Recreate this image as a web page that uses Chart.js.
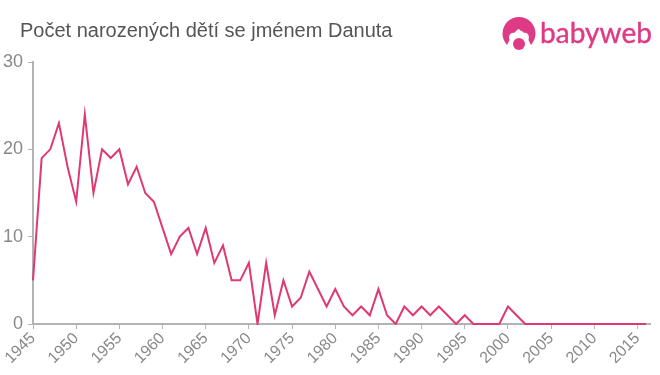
<!DOCTYPE html>
<html>
<head>
<meta charset="utf-8">
<title>Počet narozených dětí se jménem Danuta</title>
<script src="https://cdn.jsdelivr.net/npm/chart.js@4"></script>
<style>
    html, body { margin: 0; padding: 0; background: #fff; }
    #wrap { position: relative; width: 660px; height: 375px; overflow: hidden; }
    #chartTitle { position: absolute; left: 20px; top: 19px; font: 20px/23px "Liberation Sans"; color: #555555; white-space: nowrap; }
    #logo { position: absolute; left: 495px; top: 8px; }
</style>
</head>
<body>
<div id="wrap">
    <canvas id="chartDanuta" width="660" height="375"></canvas>
    <div id="chartTitle"></div>
    <svg id="logo" width="165" height="50" viewBox="495 8 165 50">
        <circle cx="519" cy="33.5" r="16.5" fill="#df3a85"/>
        <path d="M504 51 C507 45 508 43 509.5 40 C508 35 511 32 514 33 C516 31 518 29 519 29 C520 31 523 31 524 33 C527 32 530 35 528.5 40 C530 43 531 45 534 51 Z" fill="#fff"/>
        <circle cx="519" cy="44" r="6" fill="#df3a85"/>
        <text x="540" y="43" font-family="Lato" font-size="28" textLength="112" lengthAdjust="spacing" fill="#df3a85" stroke="#df3a85" stroke-width="0.4">babyweb</text>
    </svg>
</div>
<script>
var years = [1945,1946,1947,1948,1949,1950,1951,1952,1953,1954,1955,1956,1957,1958,1959,
    1960,1961,1962,1963,1964,1965,1966,1967,1968,1969,1970,1971,1972,1973,1974,
    1975,1976,1977,1978,1979,1980,1981,1982,1983,1984,1985,1986,1987,1988,1989,
    1990,1991,1992,1993,1994,1995,1996,1997,1998,1999,2000,2001,2002,2003,2004,
    2005,2006,2007,2008,2009,2010,2011,2012,2013,2014,2015,2016];
var counts = [5,19,20,23,18,14,24,15,20,19,20,16,18,15,14,
    11,8,10,11,8,11,7,9,5,5,7,0,7,1,5,
    2,3,6,4,2,4,2,1,2,1,4,1,0,2,1,
    2,1,2,1,0,1,0,0,0,0,2,1,0,0,0,
    0,0,0,0,0,0,0,0,0,0,0,0];
var xTickLabels = [1945,1950,1955,1960,1965,1970,1975,1980,1985,1990,1995,2000,2005,2010,2015];
var yTickLabels = [0,10,20,30];
var xAxisMax = 2016.45;

document.getElementById('chartTitle').textContent = 'Počet narozených dětí se jménem Danuta';

var points = [];
for (var i = 0; i < years.length; i++) {
    points.push({ x: years[i], y: counts[i] });
}

var ctx = document.getElementById('chartDanuta');
var chartDanuta = new Chart(ctx, {
    type: 'line',
    data: {
        datasets: [{
            data: points,
            borderColor: '#df3a6e',
            borderWidth: 2,
            borderJoinStyle: 'miter',
            pointRadius: 0,
            tension: 0,
            fill: false,
            clip: 1 // keep the full line width on the zero line
        }]
    },
    options: {
        responsive: false,
        animation: false,
        layout: { padding: { top: 62, right: 10, bottom: 0, left: 0 } },
        plugins: {
            legend: { display: false },
            tooltip: { enabled: false },
            title: { display: false }
        },
        scales: {
            x: {
                type: 'linear',
                min: years[0],
                max: xAxisMax,
                afterBuildTicks: function(axis) {
                    // only the round years, not the axis end
                    axis.ticks = xTickLabels.map(function(v) { return { value: v }; });
                },
                afterFit: function(axis) { axis.height = 51; },
                border: { color: '#b3b3b3', width: 2 },
                grid: { drawOnChartArea: false, color: '#b3b3b3', tickLength: 5, tickWidth: 1 },
                ticks: {
                    autoSkip: false,
                    maxRotation: 45,
                    minRotation: 45,
                    padding: 0,
                    color: '#888888',
                    font: { family: '"Liberation Sans"', size: 16 },
                    callback: function(value) { return String(value); }
                }
            },
            y: {
                min: yTickLabels[0],
                max: yTickLabels[yTickLabels.length - 1],
                afterFit: function(axis) { axis.width = 33; },
                border: { color: '#b3b3b3', width: 2 },
                grid: { drawOnChartArea: false, color: '#b3b3b3', tickLength: 5, tickWidth: 1 },
                ticks: {
                    stepSize: 10,
                    padding: 5,
                    color: '#888888',
                    font: { family: '"Liberation Sans"', size: 18 }
                }
            }
        }
    }
});
</script>
</body>
</html>
